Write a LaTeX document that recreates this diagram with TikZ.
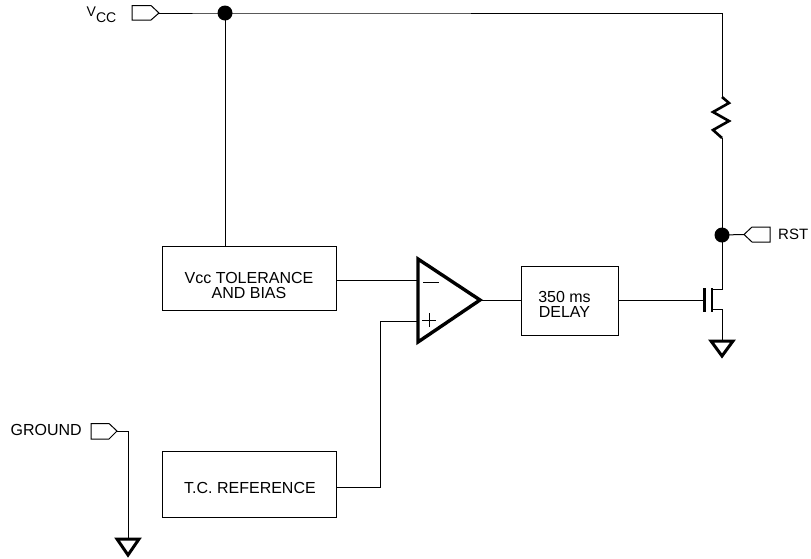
\documentclass[tikz,border=0pt]{standalone}
\usepackage{fontspec}
\setmainfont{Liberation Sans}
% horizontal shift (twice the offset), vertical shift, text
\newcommand{\lowtext}[3]{\makebox[0pt]{\hspace*{#1}\raisebox{#2}[0pt][0pt]{\fontsize{16}{15}\selectfont\begin{tabular}{@{}c@{}}#3\end{tabular}}}}
\tikzset{
  wire/.style={line width=1pt,black},
  blockbox/.style={draw=black,line width=1pt,inner sep=0pt,align=center,font=\fontsize{16}{15}\selectfont},
  pin/.style={draw=black,line width=1pt},
  label/.style={inner sep=0pt,font=\fontsize{16}{16}\selectfont},
  junction/.style={circle,fill=black,inner sep=0pt,minimum size=15pt},
  heavy/.style={line width=3pt,line join=miter},
}
\begin{document}
\begin{tikzpicture}[x=1pt,y=-1pt]
\useasboundingbox (0,0) rectangle (811,558);
% blocks
\node[blockbox,minimum width=174pt,minimum height=64pt] (tol) at (249,278) {\lowtext{0pt}{-14pt}{Vcc TOLERANCE\\AND BIAS}};
\node[blockbox,minimum width=174pt,minimum height=66pt] (ref) at (249,484) {\lowtext{2pt}{-10pt}{T.C. REFERENCE}};
\node[blockbox,minimum width=97pt,minimum height=69pt] (delay) at (569.5,300.5) {\lowtext{-10pt}{-10.5pt}{350 ms\\DELAY}};
% junctions
\node[junction] (jv) at (225,13) {};
\node[junction] (jr) at (722,235) {};
% coordinates
\coordinate (vcctip) at (159,13);
\coordinate (rsttip) at (744,234.5);
\coordinate (gndtip) at (117,431);
\coordinate (corner) at (722,13);
\coordinate (rtop) at (722,97);
\coordinate (rbot) at (722,138);
\coordinate (gndcorner) at (128,431);
\coordinate (gndtop) at (128,538);
\coordinate (minus) at (418,280);
\coordinate (plus) at (418,321);
\coordinate (out) at (480,300);
\coordinate (gate) at (704,300);
\coordinate (drain) at (712,289);
\coordinate (source) at (712,309);
\coordinate (gtop) at (722,340);
\coordinate (refbend) at (380,487);
% wires
\draw[wire] (vcctip) -- (jv.center) -- (corner) -- (rtop);
\draw[wire] (jv.center) -- (tol.north -| jv);
\draw[line width=2.6pt,miter limit=10] (rtop) -- (729,103) -- (713,112) -- (729,121) -- (713,130) -- (rbot);
\draw[wire] (rbot) -- (jr.center);
\draw[wire] (jr.center) -- (rsttip);
\draw[wire] (jr.center) -- (722,289) -- (drain);
\draw[wire] (source) -- (722,309) -- (gtop);
\draw[wire] (tol.east |- minus) -- (minus);
\draw[wire] (ref.east |- refbend) -- (refbend) -- (380,321) -- (plus);
\draw[wire] (out) -- (delay.west |- out);
\draw[wire] (delay.east |- gate) -- (gate);
\draw[wire] (gndtip) -- (gndcorner) -- (gndtop);
% pins
\draw[pin] (132,5.5) -- (151,5.5) -- (vcctip) -- (151,20) -- (132,20) -- cycle;
\draw[pin] (770,227) -- (752,227) -- (rsttip) -- (752,242) -- (770,242) -- cycle;
\draw[pin] (91,423.5) -- (109,423.5) -- (gndtip) -- (109,439) -- (91,439) -- cycle;
% op amp
\draw[heavy,line width=3.4pt] (418,259) -- (out) -- (418,342) -- cycle;
\draw[line width=1pt] (423,282) -- (439,282);
\draw[line width=1pt] (422,320) -- (436,320) (429,313) -- (429,327);
% transistor
\draw[line width=2.6pt] (704.5,288) -- (704.5,312) (712,288) -- (712,312);
% grounds
\draw[heavy] (711,341) -- (733,341) -- (722,356) -- cycle;
\draw[heavy] (117,539) -- (139,539) -- (128,555) -- cycle;
% labels
\node[label,anchor=base west,font=\fontsize{14}{14}\selectfont] (lv) at (86.5,16) {V\raisebox{-6pt}{CC}};
\node[label,anchor=west,font=\fontsize{15}{15}\selectfont] (lr) at (778,234.5) {RST};
\node[label,anchor=east] (lg) at (82,430) {GROUND};
\end{tikzpicture}
\end{document}
